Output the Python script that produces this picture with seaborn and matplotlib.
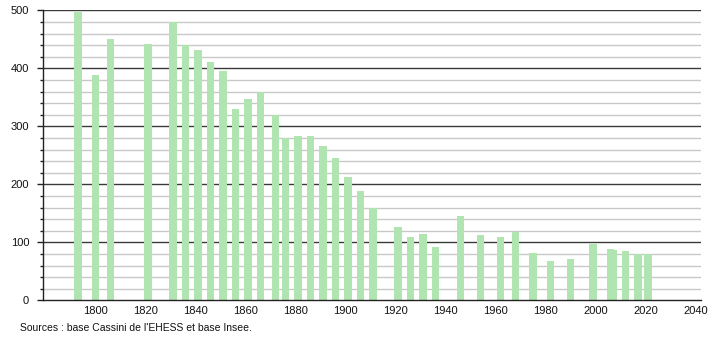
import matplotlib
matplotlib.use("Agg")
import matplotlib.pyplot as plt
import seaborn as sns
import pandas as pd
from matplotlib.ticker import MultipleLocator

years = [1793, 1800, 1806, 1821, 1831, 1836, 1841, 1846, 1851, 1856, 1861, 1866,
         1872, 1876, 1881, 1886, 1891, 1896, 1901, 1906, 1911, 1921, 1926, 1931,
         1936, 1946, 1954, 1962, 1968, 1975, 1982, 1990, 1999, 2006, 2007, 2012,
         2017, 2021]
population = [497, 388, 450, 442, 479, 440, 431, 411, 395, 330, 347, 359,
              319, 279, 283, 283, 266, 245, 212, 188, 159, 126, 109, 114,
              92, 145, 113, 109, 118, 81, 67, 72, 97, 88, 86, 85,
              80, 79]
x_ticks = [1800, 1820, 1840, 1860, 1880, 1900, 1920, 1940, 1960, 1980, 2000, 2020, 2040]
y_ticks = [0, 100, 200, 300, 400, 500]
source_text = "Sources : base Cassini de l'EHESS et base Insee."

sns.set_style("white")
plt.rcParams['font.family'] = ['Liberation Sans', 'DejaVu Sans']
plt.rcParams['text.color'] = '#111111'
plt.rcParams['xtick.color'] = '#111111'
plt.rcParams['ytick.color'] = '#111111'

df = pd.DataFrame({"year": years, "pop": population})

fig = plt.figure(figsize=(7.10, 3.40), dpi=100)
ax = fig.add_axes([43/710, 1 - 300.3/340, (701 - 43)/710, (300.3 - 10.3)/340])

sns.barplot(data=df, x="year", y="pop", native_scale=True, width=3.2,
            color="#b0e4b0", saturation=1, edgecolor="none", ax=ax, zorder=3,
            errorbar=None)

ax.set_xlim(1779.0, 2042.2)
ax.set_ylim(0, 500)
ax.set_xticks(x_ticks)
ax.set_xticklabels([str(t) for t in x_ticks])
ax.set_yticks(y_ticks)
ax.yaxis.set_minor_locator(MultipleLocator(20))
ax.set_xlabel("")
ax.set_ylabel("")

ax.grid(False)
for v in range(20, 501, 20):
    if v % 100 == 0:
        ax.axhline(v, color="#3a3a3a", lw=1.0, zorder=1)
    else:
        ax.axhline(v, color="#c8c8c8", lw=1.0, zorder=1)

for s in ["top", "right"]:
    ax.spines[s].set_visible(False)
for s in ["left", "bottom"]:
    ax.spines[s].set_color("#222222")
    ax.spines[s].set_linewidth(1.0)
    ax.spines[s].set_zorder(4)

ax.tick_params(axis="y", which="major", length=4, width=1, color="#222222",
               labelsize=8, pad=6, left=True, labelcolor="#111111")
ax.tick_params(axis="y", which="minor", length=2, width=1, color="#222222", left=True)
ax.tick_params(axis="x", which="both", length=0, labelsize=8, pad=4, labelcolor="#111111")

fig.text(20/710, 1 - 328/340, source_text, fontsize=7.5, va="center", ha="left",
         color="#111111")

fig.savefig("out.png", dpi=100)
